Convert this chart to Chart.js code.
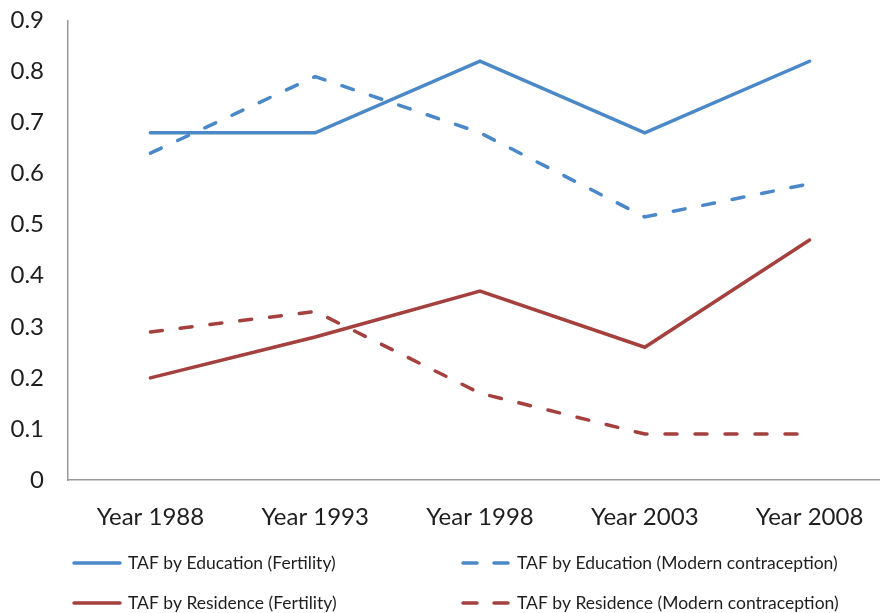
<!DOCTYPE html>
<html>
<head>
<meta charset="utf-8">
<script src="https://cdn.jsdelivr.net/npm/chart.js@4"></script>
<style>
  html, body { margin: 0; padding: 0; background: #fff; overflow: hidden; }
  #wrap { width: 892px; height: 631px; margin-top: -18px; }
</style>
</head>
<body>
<div id="wrap"><canvas id="c" width="892" height="631"></canvas></div>
<script>
const years = ["Year 1988", "Year 1993", "Year 1998", "Year 2003", "Year 2008"];
const eduFertility = [0.68, 0.68, 0.82, 0.68, 0.82];
const eduModern = [0.64, 0.79, 0.68, 0.515, 0.58];
const resFertility = [0.20, 0.28, 0.37, 0.26, 0.47];
const resModern = [0.29, 0.33, 0.17, 0.09, 0.09];

const blue = "#4a88c7";
const red = "#a4403d";
const font = "Lato, 'Liberation Sans', sans-serif";

function line(label, data, color, dashed) {
  return {
    label: label,
    data: data,
    borderColor: color,
    backgroundColor: color,
    borderWidth: 3.5,
    borderDash: dashed ? [12, 18] : [],
    borderCapStyle: "round",
    pointRadius: 0,
    tension: 0,
    fill: false
  };
}

// legend drawn in two columns under the axis, like the original
const gridLegend = {
  id: "gridLegend",
  afterDraw(chart) {
    const ctx = chart.ctx;
    const cols = [73, 462];
    const rows = [581, 621];
    ctx.save();
    ctx.font = "17.5px " + font;
    ctx.textBaseline = "middle";
    chart.data.datasets.forEach((ds, i) => {
      const x = cols[i % 2];
      const y = rows[Math.floor(i / 2)];
      ctx.strokeStyle = ds.borderColor;
      ctx.lineWidth = 3.5;
      ctx.lineCap = "round";
      ctx.setLineDash(ds.borderDash.length ? [14, 17] : []);
      ctx.beginPath();
      ctx.moveTo(x + 1, y);
      ctx.lineTo(x + 47, y);
      ctx.stroke();
      ctx.setLineDash([]);
      ctx.fillStyle = "#1e1e1e";
      ctx.fillText(ds.label, x + 55, y);
    });
    ctx.restore();
  }
};

new Chart(document.getElementById("c"), {
  type: "line",
  data: {
    labels: years,
    datasets: [
      line("TAF by Education (Fertility)", eduFertility, blue, false),
      line("TAF by Education (Modern contraception)", eduModern, blue, true),
      line("TAF by Residence (Fertility)", resFertility, red, false),
      line("TAF by Residence (Modern contraception)", resModern, red, true)
    ]
  },
  options: {
    responsive: false,
    animation: false,
    layout: { padding: { top: 3, right: 0, left: 0, bottom: 0 } },
    plugins: { legend: { display: false }, tooltip: { enabled: false } },
    scales: {
      x: {
        offset: true,
        grid: { display: false, drawTicks: false },
        border: { display: true, color: "#999", width: 1.5 },
        ticks: { color: "#1e1e1e", padding: 23, font: { family: font, size: 24 } },
        afterFit(scale) { scale.height = 133; }
      },
      y: {
        min: 0,
        max: 0.9,
        ticks: { stepSize: 0.1, color: "#1e1e1e", padding: 24, font: { family: font, size: 24 } },
        grid: { display: false, drawTicks: false },
        border: { display: true, color: "#999", width: 1.5 },
        afterFit(scale) { scale.width = 68; }
      }
    }
  },
  plugins: [gridLegend]
});
</script>
</body>
</html>
